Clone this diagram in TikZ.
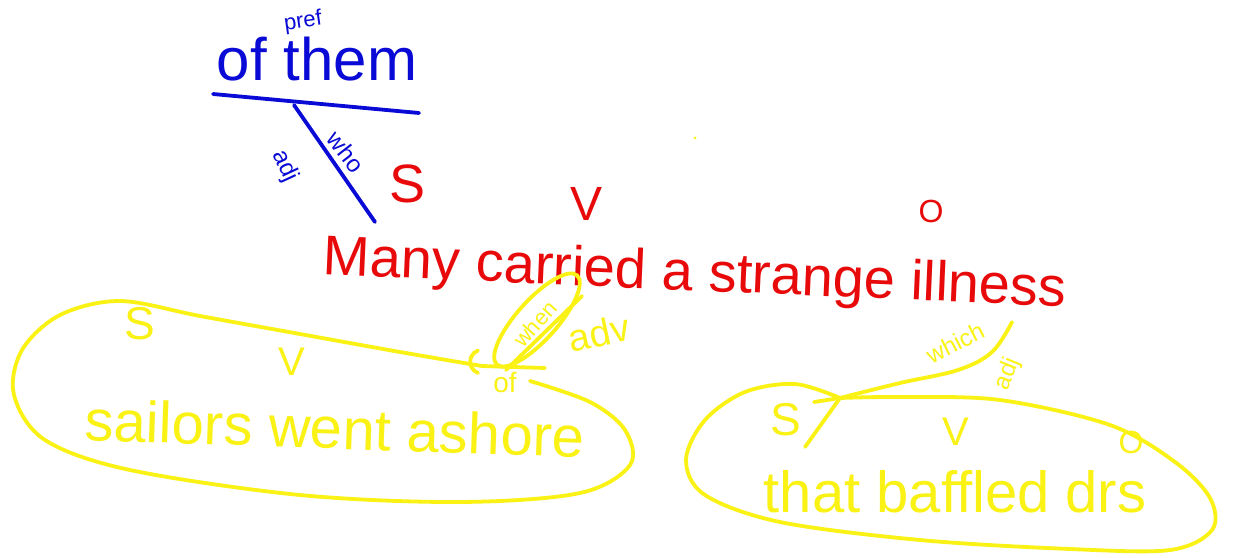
\documentclass[tikz,border=0pt]{standalone}
\usepackage{fontspec}
\setmainfont{Liberation Sans}
\definecolor{pblue}{RGB}{10,10,215}
\definecolor{pred}{RGB}{232,10,10}
\definecolor{pyel}{RGB}{250,242,20}
\newcommand\hsz[1]{\fontsize{#1}{#1}\selectfont}
\begin{document}
\begin{tikzpicture}[x=1pt,y=-1pt,
  lab/.style={inner sep=0pt,outer sep=0pt},
  bl/.style={lab,text=pblue},
  rd/.style={lab,text=pred},
  yl/.style={lab,text=pyel},
  pen/.style={line width=3.8pt,line cap=round,line join=round},
  bpen/.style={pen,draw=pblue},
  ypen/.style={pen,draw=pyel}]
\useasboundingbox[fill=white] (0,0) rectangle (1233,557);

% ---------- blue: "of them" ----------
\node[bl,rotate=8] (pref) at (303,22) {\hsz{22}pref};
\node[bl,anchor=base] (ofthem) at (317,80) {\hsz{60}of them};
\coordinate (ul1) at (213,94);
\coordinate (ul2) at (419,113);
\coordinate (dg1) at (294,105);
\coordinate (dg2) at (375,222);
\draw[bpen] (ul1) -- (ul2);
\draw[bpen] (dg1) -- (dg2);
\node[bl,rotate=-52] (who) at (346,152) {\hsz{24}who};
\node[bl,rotate=-65] (badj) at (285,166) {\hsz{24}adj};

% ---------- red: main clause ----------
\node[rd] (S) at (408,184) {\hsz{54}S};
\node[rd] (V) at (586,204) {\hsz{48}V};
\node[rd] (O) at (931,211) {\hsz{32}O};
\node[rd,rotate=-2.5] (main) at (695,276) {\hsz{56}Many carried a strange illness};

% ---------- yellow: left clause ----------
\draw[ypen] plot[smooth,tension=0.55] coordinates {
  (482,366) (400,352) (300,334) (200,316) (120,301) (60,315) (22,350)
  (14,395) (45,440) (130,470) (300,495) (460,502) (580,493) (630,465)
  (625,430) (590,402) (530,381)} ;
\draw[ypen] (482,366) -- (545,368);
\draw[ypen] (478,373) arc[start angle=110,end angle=250,radius=12];
\node[yl] (ofy) at (505,382) {\hsz{28}of};
\coordinate (adv1) at (506,370);
\coordinate (adv2) at (582,296);
\draw[ypen] (adv1) -- (adv2);
\draw[ypen,rotate around={48:(537,320)}] (537,320) ellipse[x radius=60,y radius=20];
\node[yl,rotate=48] (when) at (535,324) {\hsz{22}when};
\node[yl,rotate=12] (adv) at (599,333) {\hsz{38}adv};
\node[yl] (Sl) at (140,324) {\hsz{46}S};
\node[yl] (Vl) at (292,362) {\hsz{40}V};
\node[yl,rotate=-2] (left) at (335,428) {\hsz{58}sailors went ashore};

% ---------- yellow: right clause ----------
\draw[ypen] plot[smooth,tension=0.55] coordinates {
  (840,398) (795,384) (745,392) (705,420) (686,460) (705,495) (780,522)
  (920,540) (1070,549) (1170,550) (1212,530) (1210,498) (1175,462)
  (1110,425) (1000,400) (900,397) (840,398)};
\coordinate (rs1) at (814,402);
\coordinate (rs2) at (840,398);
\coordinate (rd1) at (805,447);
\draw[ypen] (rs1) -- (rs2);
\draw[ypen] (rd1) -- (rs2);
\draw[ypen] plot[smooth,tension=0.6] coordinates {(840,398) (900,383) (958,370) (992,352) (1012,322)};
\node[yl,rotate=27] (which) at (955,343) {\hsz{24}which};
\node[yl,rotate=68] (radj) at (1008,374) {\hsz{24}adj};
\node[yl] (Sr) at (786,420) {\hsz{46}S};
\node[yl] (Vr) at (956,432) {\hsz{40}V};
\node[yl] (Or) at (1131,442) {\hsz{32}O};
\node[yl] (right) at (955,492) {\hsz{58}that baffled drs};

\fill[pyel] (695,138) circle[radius=1.5];
\end{tikzpicture}
\end{document}
